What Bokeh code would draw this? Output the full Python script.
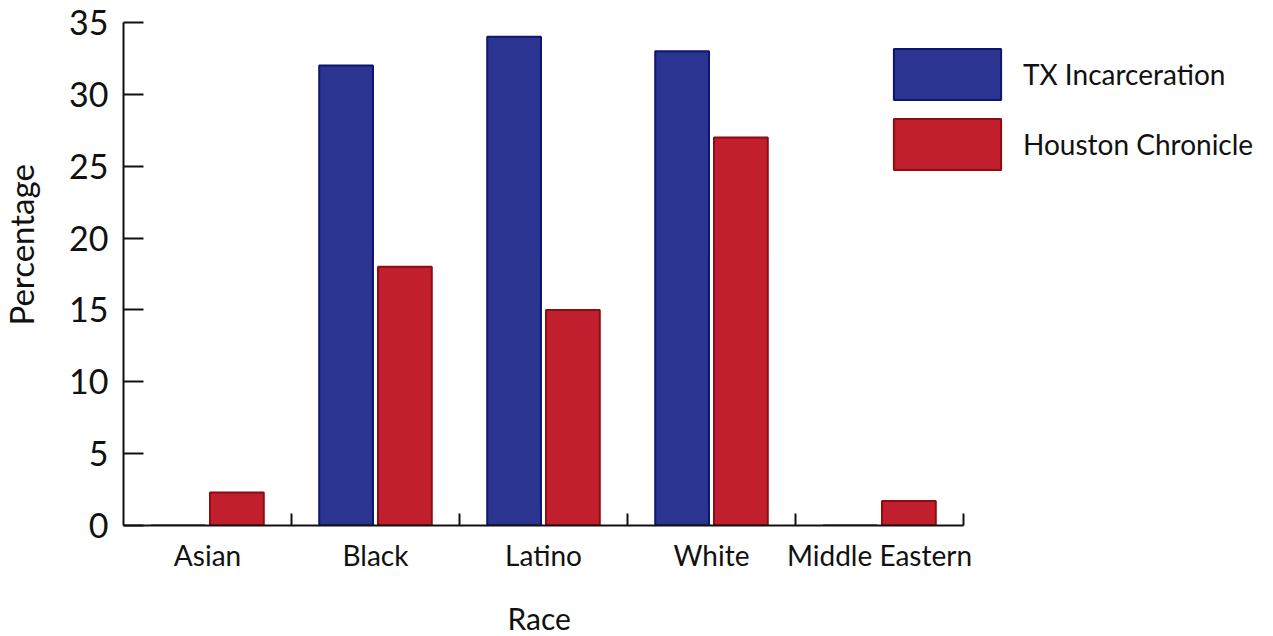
import numpy as np
from bokeh.plotting import figure
from bokeh.models import FixedTicker, Range1d, Legend, LegendItem, Title, LinearAxis
from bokeh.embed import file_html
from bokeh.resources import INLINE

# Share of each race group, in percent
races = ["Asian", "Black", "Latino", "White", "Middle Eastern"]
tx_incarceration = [0, 32, 34, 33, 0]
houston_chronicle = [2.3, 18, 15, 27, 1.7]
y_ticks = [0, 5, 10, 15, 20, 25, 30, 35]

FONT = "Lato"
INK = "#111111"
BLUE, BLUE_EDGE = "#2b3591", "#0c176b"
RED, RED_EDGE = "#c11f2e", "#8c0d10"

n = len(races)
centers = np.arange(n) + 0.5            # category centres on a numeric axis
boundaries = list(np.arange(1, n + 1))  # separators between categories
bar_w = 0.32
offset = 0.175

# The frame runs on to the right so the legend has room beside the bars;
# the x axis itself stops at the last category.
W, H = 1273, 636
left, right, top, bottom = 123, 8, 22, 111
axis_px = 840
x_end = n * (W - left - right) / axis_px

p = figure(width=W, height=H, output_backend="svg", toolbar_location=None,
           x_range=Range1d(0, x_end), y_range=Range1d(0, 35))
p.min_border_left = left
p.min_border_right = right
p.min_border_top = top
p.min_border_bottom = bottom
p.outline_line_color = None
p.xgrid.visible = False
p.ygrid.visible = False
p.background_fill_color = "white"
p.border_fill_color = "white"

r_tx = p.vbar(x=centers - offset, top=tx_incarceration, width=bar_w,
              fill_color=BLUE, line_color=BLUE_EDGE, line_width=2)
r_hc = p.vbar(x=centers + offset, top=houston_chronicle, width=bar_w,
              fill_color=RED, line_color=RED_EDGE, line_width=2)


def spacer(px):
    """A blank axis (white tick, no line, no label) that only reserves room
    between an axis and its title."""
    return LinearAxis(ticker=FixedTicker(ticks=[0.0], minor_ticks=[]),
                      major_label_overrides={0: ""},
                      major_label_standoff=0,
                      major_tick_out=px, major_tick_in=0,
                      minor_tick_out=0, minor_tick_in=0,
                      major_tick_line_color="white",
                      axis_line_color=None)


# y axis
ya = p.yaxis[0]
ya.ticker = FixedTicker(ticks=y_ticks)
ya.major_label_text_font = FONT
ya.major_label_text_font_size = "34px"
ya.major_label_text_color = INK
ya.major_label_standoff = 15
ya.major_tick_in = 20
ya.major_tick_out = 0
ya.major_tick_line_width = 2
ya.major_tick_line_color = INK
ya.minor_tick_line_color = None
ya.axis_line_width = 2
ya.axis_line_color = INK

p.add_layout(spacer(24), "left")
# y axis title, set a little above the middle of the axis
p.add_layout(Title(text="Percentage", align="left", offset=200, standoff=0,
                   vertical_align="top",
                   text_font=FONT, text_font_size="33px",
                   text_font_style="normal", text_color=INK), "left")

# x axis: labels at category centres, short ticks between categories
xa = p.xaxis[0]
xa.bounds = (0, n)
xa.ticker = FixedTicker(ticks=list(centers), minor_ticks=boundaries)
xa.major_label_overrides = {float(c): r for c, r in zip(centers, races)}
xa.major_label_text_font = FONT
xa.major_label_text_font_size = "28px"
xa.major_label_text_color = INK
xa.major_label_standoff = 12
xa.major_tick_in = 0
xa.major_tick_out = 0
xa.minor_tick_in = 12
xa.minor_tick_out = 0
xa.minor_tick_line_width = 2
xa.minor_tick_line_color = INK
xa.axis_line_width = 2
xa.axis_line_color = INK

p.add_layout(spacer(23), "below")
# x axis title, centred under the categories
p.add_layout(Title(text="Race", align="left", offset=384, standoff=0,
                   vertical_align="bottom",
                   text_font=FONT, text_font_size="30px",
                   text_font_style="normal", text_color=INK), "below")

# Legend: area glyphs are drawn inset by 10% of the glyph box on every side
legend = Legend(items=[LegendItem(label="TX Incarceration", renderers=[r_tx]),
                       LegendItem(label="Houston Chronicle", renderers=[r_hc])],
                location=(757, 349))
legend.glyph_width = 134
legend.glyph_height = 64
legend.spacing = 6
legend.label_standoff = 9
legend.padding = 0
legend.margin = 0
legend.border_line_alpha = 0
legend.background_fill_alpha = 0
legend.label_text_font = FONT
legend.label_text_font_size = "28px"
legend.label_text_color = INK
p.add_layout(legend)

open("out.html", "w").write(file_html(p, INLINE))
